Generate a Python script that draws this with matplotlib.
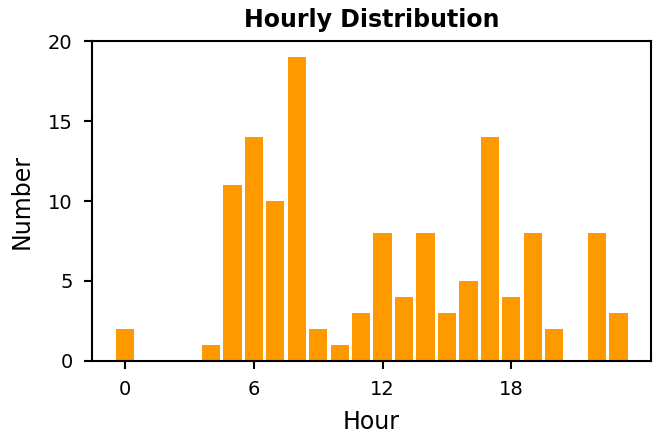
import matplotlib
matplotlib.use("Agg")
import matplotlib.pyplot as plt

hours = list(range(24))
counts = [2, 0, 0, 0, 1, 11, 14, 10, 19, 2, 1, 3, 8, 4, 8, 3, 5, 14, 4, 8, 2, 0, 8, 3]
xticks = [0, 6, 12, 18]
yticks = [0, 5, 10, 15, 20]

fig = plt.figure(figsize=(6.59, 4.38), dpi=100)
ax = fig.add_axes([0.1396, 0.176, 0.8478, 0.730])
ax.bar(hours, counts, width=0.85, color="#ff9900")
ax.set_xlim(-1.55, 24.5)
ax.set_ylim(0, 20)
ax.set_xticks(xticks)
ax.set_yticks(yticks)
ax.tick_params(labelsize=14, width=1.5, length=6, pad=8)
for s in ax.spines.values():
    s.set_linewidth(1.5)
ax.set_xlabel("Hour", fontsize=17, labelpad=8)
ax.set_ylabel("Number", fontsize=17, labelpad=10)
ax.set_title("Hourly Distribution", fontsize=17, fontweight="bold", pad=10)
fig.savefig("out.png", dpi=100)
